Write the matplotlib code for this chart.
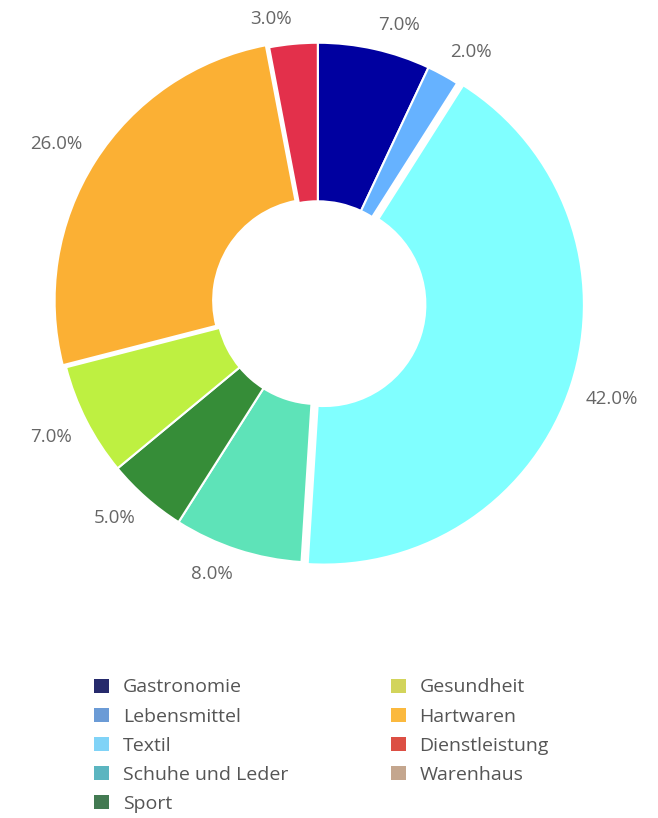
import matplotlib.pyplot as plt
from matplotlib.patches import Patch

categories = ["Gastronomie", "Lebensmittel", "Textil", "Schuhe und Leder", "Sport",
              "Gesundheit", "Hartwaren", "Dienstleistung", "Warenhaus"]
shares = [7.0, 2.0, 42.0, 8.0, 5.0, 7.0, 26.0, 3.0, 0.0]

slice_colors = ["#0000A0", "#66B2FF", "#80FFFF", "#5EE3B8", "#368D38",
                "#BEF041", "#FBB034", "#E3304B", "#C4A68E"]
legend_colors = ["#262A6C", "#6B9BD6", "#80D3F7", "#5BB5C0", "#437A52",
                 "#D2D45B", "#FBB93E", "#DC4F44", "#C4A68E"]
explode = [0, 0, 0.025, 0, 0, 0, 0.015, 0, 0]

plt.rcParams['font.family'] = ['Open Sans', 'DejaVu Sans']

fig = plt.figure(figsize=(6.58, 8.18), dpi=100)
ax = fig.add_axes([0.088, 0.312, 0.790, 0.636])

# drop the empty slice so it draws no label
idx = [i for i, v in enumerate(shares) if v > 0]
wedges, texts = ax.pie(
    [shares[i] for i in idx],
    labels=[f"{shares[i]:.1f}%" for i in idx],
    colors=[slice_colors[i] for i in idx],
    explode=[explode[i] for i in idx],
    startangle=90, counterclock=False,
    labeldistance=1.06,
    wedgeprops=dict(width=0.61, edgecolor='white', linewidth=1.5),
    textprops=dict(color='#666666', fontsize=13.5),
)
# labels sit outside the ring: anchor on the near corner
for t in texts:
    x, y = t.get_position()
    t.set_va('bottom' if y > 0 else 'top')

ax.set_xlim(-1, 1)
ax.set_ylim(-1, 1)
ax.set_aspect('equal')

handles = [Patch(facecolor=c, edgecolor='none') for c in legend_colors]
fig.legend(handles, categories, loc='upper left', bbox_to_anchor=(0.117, 0.192),
           ncol=2, frameon=False, fontsize=14, labelcolor='#555555',
           handlelength=0.75, handleheight=0.75, handletextpad=0.7,
           columnspacing=5.3, labelspacing=0.57)

fig.savefig('out.png', dpi=100)
